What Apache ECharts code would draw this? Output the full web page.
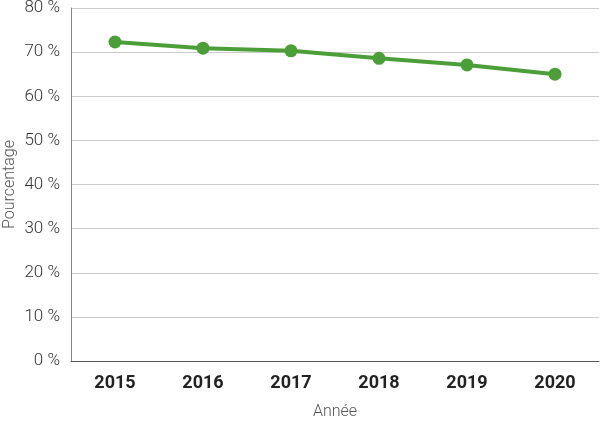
<!DOCTYPE html>
<html><head><meta charset="utf-8">
<script src="https://cdn.jsdelivr.net/npm/echarts@6/dist/echarts.min.js"></script>
<style>html,body{margin:0;padding:0;background:#fff}#c{width:600px;height:423px}</style>
</head><body><div id="c"></div>
<script>
const categories = ['2015','2016','2017','2018','2019','2020'];
const values = [72.3, 70.9, 70.3, 68.6, 67.1, 65.0];
const chart = echarts.init(document.getElementById('c'));
chart.setOption({
  animation:false,
  grid:{left:71,right:1,top:8,bottom:62,containLabel:false,outerBoundsMode:'none'},
  xAxis:{type:'category',data:categories,boundaryGap:true,
    name:'Année',nameLocation:'middle',nameGap:43,
    nameTextStyle:{fontFamily:'Roboto',fontSize:16,color:'#555',fontWeight:300},
    axisLine:{lineStyle:{color:'#555',width:1}},axisTick:{show:false},
    axisLabel:{fontFamily:'Roboto',fontSize:18,fontWeight:'bold',color:'#222',margin:13}},
  yAxis:{type:'value',min:0,max:80,interval:10,
    name:'Pourcentage',nameLocation:'middle',nameGap:53,nameMoveOverlap:false,
    nameTextStyle:{fontFamily:'Roboto',fontSize:16,color:'#555',fontWeight:300},
    axisLine:{show:true,lineStyle:{color:'#888'}},axisTick:{show:false},
    splitLine:{lineStyle:{color:'#ccc'}},
    axisLabel:{fontFamily:'Roboto',fontSize:17,fontWeight:300,color:'#333',margin:11,formatter:'{value} %'}},
  series:[{type:'line',data:values,symbol:'circle',symbolSize:13,
    lineStyle:{width:4,color:'#4c9f38'},itemStyle:{color:'#4c9f38'}}]
});
</script></body></html>
